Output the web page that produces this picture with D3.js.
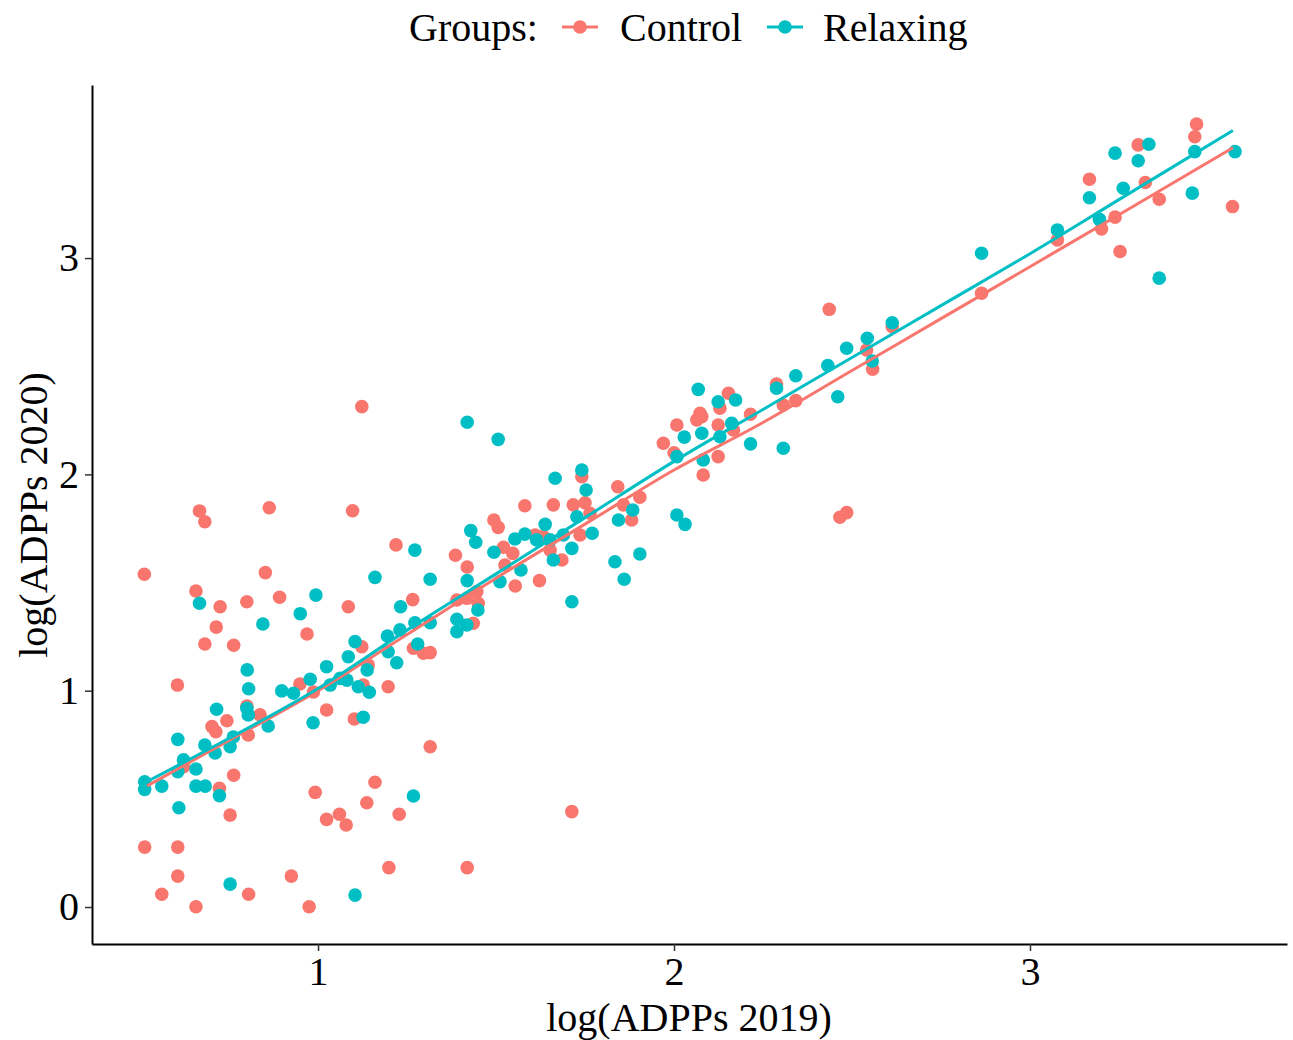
<!DOCTYPE html>
<html>
<head>
<meta charset="utf-8">
<script src="https://cdn.jsdelivr.net/npm/d3@7"></script>
<style>
  body { margin: 0; background: #fff; }
  text { font-family: "Liberation Serif", "Times New Roman", serif; fill: #000; }
</style>
</head>
<body>
<div id="chart"></div>
<script>
// Control group: log(ADPPs 2019) / log(ADPPs 2020)
const controlX = [0.667,0.682,0.863,0.512,0.852,0.657,0.725,0.800,0.892,0.714,0.682,0.763,0.969,0.605,0.949,0.987,
  0.800,0.744,0.702,0.713,0.837,0.804,1.024,0.622,0.763,0.723,0.992,1.024,0.753,0.513,0.606,0.606,0.925,0.561,0.805,0.657,0.975,
  1.123,1.097,1.581,1.219,1.386,1.494,1.506,1.419,1.521,1.547,1.525,1.554,1.266,1.085,1.446,1.418,1.450,1.390,
  1.123,1.141,1.296,1.315,1.268,1.197,1.102,1.127,1.315,1.160,1.137,1.060,1.079,1.228,1.199,1.419,1.436,
  2.073,2.078,2.064,2.124,2.008,1.970,2.153,2.129,2.124,2.082,2.000,1.741,1.842,1.661,1.717,1.750,1.764,1.904,1.858,1.881,
  1.736,1.610,1.633,1.685,1.652,1.622,1.713,
  2.436,2.864,2.613,2.541,2.558,2.288,2.307,2.342,2.215,2.167,2.466,2.485,
  3.468,3.463,3.304,3.167,3.324,3.363,3.239,3.201,3.077,3.253,3.569];
const controlY = [1.831,1.781,1.846,1.538,1.546,1.461,1.388,1.411,1.432,1.294,1.216,1.210,1.262,1.026,1.031,0.994,
  0.929,0.861,0.834,0.810,0.888,0.795,0.911,0.649,0.609,0.549,0.530,0.405,0.425,0.277,0.277,0.143,0.143,0.059,0.059,0.001,0.001,
  2.313,1.832,1.855,1.674,1.626,1.789,1.755,1.572,1.663,1.635,1.581,1.484,1.421,1.388,1.458,1.427,1.404,1.419,
  1.203,1.119,1.173,1.176,1.196,1.018,0.869,1.026,0.741,0.577,0.482,0.429,0.379,0.429,0.182,0.182,1.312,
  2.282,2.267,2.252,2.228,2.228,2.144,2.375,2.306,2.082,1.997,2.100,1.989,1.943,1.859,1.859,1.869,1.820,1.894,1.859,1.789,
  1.720,1.720,1.712,1.604,1.650,1.509,0.441,
  2.763,2.837,2.683,2.575,2.486,2.418,2.321,2.341,2.278,2.205,1.802,1.823,
  3.619,3.561,3.523,3.364,3.349,3.272,3.189,3.135,3.084,3.030,3.238];

// Relaxing group
const relaxX = [0.667,0.845,0.950,0.994,0.801,0.805,0.898,0.931,0.978,1.024,
  0.715,0.800,0.606,0.860,0.986,0.682,0.711,0.753,0.622,0.606,0.657,0.513,0.513,0.561,0.657,0.683,0.723,0.609,0.753,0.762,0.804,
  1.419,1.506,1.272,1.429,1.443,1.494,1.553,1.581,1.160,1.315,1.419,1.511,1.570,1.232,1.449,1.390,
  1.104,1.085,1.195,1.230,1.272,1.390,1.418,1.315,1.280,1.197,1.221,1.138,1.062,1.081,1.034,1.113,1.144,1.127,1.268,1.104,
  2.068,2.124,2.008,2.029,2.078,2.129,2.082,2.008,2.031,1.666,1.741,1.753,1.638,1.727,1.770,1.844,1.884,1.713,1.661,1.834,
  1.904,1.860,1.614,1.652,1.689,1.713,
  2.864,2.613,2.543,2.485,2.557,2.432,2.342,2.288,2.173,2.460,2.215,2.307,2.162,
  3.239,3.334,3.304,3.576,3.463,3.262,3.167,3.456,3.077,3.195,3.363];
const relaxY = [1.404,1.308,1.356,1.442,1.096,1.009,0.999,0.988,1.053,1.111,
  0.914,0.919,0.775,0.837,0.852,0.749,0.712,0.741,0.680,0.626,0.638,0.579,0.544,0.559,0.559,0.559,0.515,0.459,0.106,0.786,0.888,
  2.241,2.162,1.650,1.740,1.686,1.640,1.701,1.724,1.524,1.515,1.509,1.504,1.558,1.388,1.373,1.330,
  1.227,1.157,1.253,1.281,1.314,1.273,1.304,1.314,1.216,1.180,1.129,1.096,1.057,1.049,1.026,1.018,0.993,0.877,0.513,0.055,
  2.393,2.336,2.082,2.172,2.190,2.174,2.067,1.812,1.769,1.982,2.020,1.928,1.769,1.804,1.728,1.789,1.835,1.658,1.604,1.596,
  1.632,1.515,1.697,1.697,1.720,1.411,
  3.022,2.701,2.629,2.583,2.524,2.503,2.456,2.398,2.344,2.359,2.141,2.121,2.236,
  3.485,3.526,3.450,3.492,3.492,3.323,3.279,3.300,3.130,3.179,2.907];

// smoothed trend
const fitX = [0.52, 0.75, 1.0, 1.25, 1.5, 1.75, 2.0, 2.25, 2.5, 2.75, 3.0, 3.25, 3.57];
const controlFit = [0.56, 0.77, 1.00, 1.26, 1.52, 1.77, 2.02, 2.24, 2.48, 2.72, 2.96, 3.20, 3.51];
const relaxFit = [0.58, 0.78, 1.01, 1.28, 1.54, 1.80, 2.06, 2.30, 2.54, 2.78, 3.02, 3.27, 3.59];

const xTicks = [1, 2, 3];
const yTicks = [0, 1, 2, 3];

const groups = [
  { name: 'Control', color: '#F8766D', xs: controlX, ys: controlY, fit: controlFit },
  { name: 'Relaxing', color: '#00BFC4', xs: relaxX, ys: relaxY, fit: relaxFit }
];

const width = 1293, height = 1040;
const margin = { top: 85, right: 6, bottom: 96, left: 92 };

const svg = d3.select('#chart').append('svg')
  .attr('width', width)
  .attr('height', height);

const x = d3.scaleLinear()
  .domain([0.365, 3.722])
  .range([margin.left, width - margin.right]);

const y = d3.scaleLinear()
  .domain([-0.171, 3.80])
  .range([height - margin.bottom, margin.top]);

// axes (no outer ticks, like ggplot's classic theme)
const xAxis = svg.append('g')
  .attr('transform', `translate(0,${height - margin.bottom})`)
  .call(d3.axisBottom(x).tickValues(xTicks).tickFormat(d3.format('d')).tickSize(7).tickSizeOuter(0).tickPadding(6));
const yAxis = svg.append('g')
  .attr('transform', `translate(${margin.left},0)`)
  .call(d3.axisLeft(y).tickValues(yTicks).tickFormat(d3.format('d')).tickSize(7).tickSizeOuter(0).tickPadding(6));

[xAxis, yAxis].forEach(ax => {
  ax.select('.domain').attr('stroke', '#000').attr('stroke-width', 2);
  ax.selectAll('.tick line').attr('stroke', '#333').attr('stroke-width', 1.5);
  ax.selectAll('.tick text')
    .style('font-family', '"Liberation Serif", serif')
    .style('font-size', '40px')
    .attr('fill', '#000');
});

// points
groups.forEach(g => {
  svg.append('g')
    .selectAll('circle')
    .data(g.xs.map((v, i) => [v, g.ys[i]]))
    .join('circle')
    .attr('cx', d => x(d[0]))
    .attr('cy', d => y(d[1]))
    .attr('r', 6.8)
    .attr('fill', g.color);
});

// trend lines
const line = d3.line()
  .x(d => x(d[0]))
  .y(d => y(d[1]))
  .curve(d3.curveMonotoneX);

groups.forEach(g => {
  svg.append('path')
    .datum(fitX.map((v, i) => [v, g.fit[i]]))
    .attr('fill', 'none')
    .attr('stroke', g.color)
    .attr('stroke-width', 3)
    .attr('d', line);
});

// axis titles
svg.append('text')
  .attr('x', 689)
  .attr('y', 1031)
  .attr('text-anchor', 'middle')
  .style('font-size', '40px')
  .text('log(ADPPs 2019)');

svg.append('text')
  .attr('transform', 'translate(47,515) rotate(-90)')
  .attr('text-anchor', 'middle')
  .style('font-size', '40px')
  .text('log(ADPPs 2020)');

// legend
const legend = svg.append('g');
legend.append('text')
  .attr('x', 409)
  .attr('y', 41)
  .style('font-size', '40px')
  .text('Groups:');

const legendPos = [{ key: 562, label: 620 }, { key: 767, label: 823 }];
groups.forEach((g, i) => {
  const p = legendPos[i];
  legend.append('line')
    .attr('x1', p.key).attr('x2', p.key + 36)
    .attr('y1', 27).attr('y2', 27)
    .attr('stroke', g.color)
    .attr('stroke-width', 3);
  legend.append('circle')
    .attr('cx', p.key + 18)
    .attr('cy', 27)
    .attr('r', 6.8)
    .attr('fill', g.color);
  legend.append('text')
    .attr('x', p.label)
    .attr('y', 41)
    .style('font-size', '40px')
    .text(g.name);
});
</script>
</body>
</html>
